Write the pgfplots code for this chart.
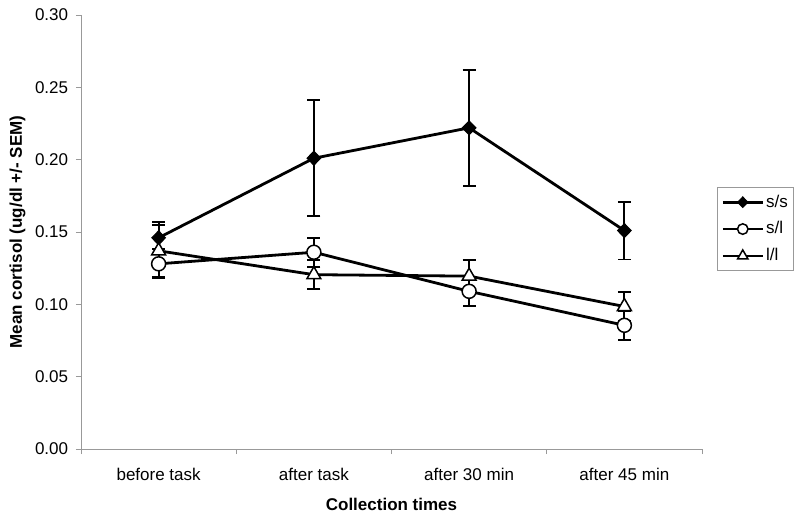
\documentclass[border=0pt]{standalone}
\usepackage{pgfplots}
\pgfplotsset{compat=1.18}
\usepackage{fontspec}
\setmainfont{Liberation Sans}
\begin{document}
\fontsize{17pt}{20pt}\selectfont
\begin{tikzpicture}
\begin{axis}[
  scale only axis, width=621pt, height=434pt,
  xmin=-0.5, xmax=3.5, ymin=0, ymax=0.30,
  axis x line*=bottom, axis y line*=left,
  axis line style={draw=black!40, line width=0.9pt},
  xtick={0,1,2,3},
  xticklabels={before task, after task, after 30 min, after 45 min},
  major x tick style={draw=none},
  minor xtick={-0.5,0.5,1.5,2.5,3.5},
  minor x tick style={draw=black!40, line width=0.9pt},
  minor tick length=5pt,
  major tick length=5pt, tick align=outside,
  ytick={0,0.05,0.10,0.15,0.20,0.25,0.30},
  y tick style={draw=black!40, line width=0.9pt},
  /pgf/number format/assume math mode=true,
  yticklabel style={/pgf/number format/.cd, fixed, fixed zerofill, precision=2, /tikz/.cd, xshift=-2pt},
  xticklabel style={yshift=-8pt},
  xlabel={\bfseries Collection times},
  ylabel={\bfseries Mean cortisol (ug/dl +/- SEM)},
  xlabel style={yshift=-6pt},
  ylabel style={yshift=-2pt},
  legend style={at={(1.024,0.603)}, anchor=north west, draw=black!40, line width=0.9pt,
    inner xsep=4pt, inner ysep=5pt, row sep=8pt},
  legend cell align=left,
  legend image code/.code={\draw[mark repeat=2,mark phase=2, every mark/.append style={scale=0.75}] plot coordinates {(0pt,0pt) (20pt,0pt) (40pt,0pt)};},
  every axis plot/.append style={line width=2.8pt},
  error bars/error bar style={line width=1.8pt, black},
  error bars/error mark options={rotate=90, mark size=6.5pt, line width=1.8pt, black},
]
\coordinate (o) at (rel axis cs:0,0);
% error bars first (drawn beneath markers)
\addplot[draw=none, mark=none, forget plot, error bars/.cd, y dir=both, y explicit]
  coordinates {(0,0.146) +- (0,0.011) (1,0.201) +- (0,0.040) (2,0.222) +- (0,0.040) (3,0.151) +- (0,0.020)};
\addplot[draw=none, mark=none, forget plot, error bars/.cd, y dir=both, y explicit]
  coordinates {(0,0.128) +- (0,0.010) (1,0.136) +- (0,0.010) (2,0.109) +- (0,0.010) (3,0.0855) +- (0,0.010)};
\addplot[draw=none, mark=none, forget plot, error bars/.cd, y dir=both, y explicit]
  coordinates {(0,0.137) +- (0,0.018) (1,0.1205) +- (0,0.010) (2,0.1195) +- (0,0.011) (3,0.0985) +- (0,0.010)};
% series
\addplot[black, mark=diamond*, mark size=7pt, mark options={solid, fill=black, line width=1pt, xscale=1.3}]
  coordinates {(0,0.146) (1,0.201) (2,0.222) (3,0.151)};
\addlegendentry{s/s}
\addplot[black, mark=*, mark size=7pt, mark options={solid, fill=white, line width=1.5pt}]
  coordinates {(0,0.128) (1,0.136) (2,0.109) (3,0.0855)};
\addlegendentry{s/l}
\addplot[black, mark=triangle*, mark size=8pt, mark options={solid, fill=white, line width=1.5pt}]
  coordinates {(0,0.137) (1,0.1205) (2,0.1195) (3,0.0985)};
\addlegendentry{l/l}
\end{axis}
\pgfresetboundingbox
\path (o) ++(-81pt,-68pt) rectangle ++(800pt,517pt);
\end{tikzpicture}
\end{document}
